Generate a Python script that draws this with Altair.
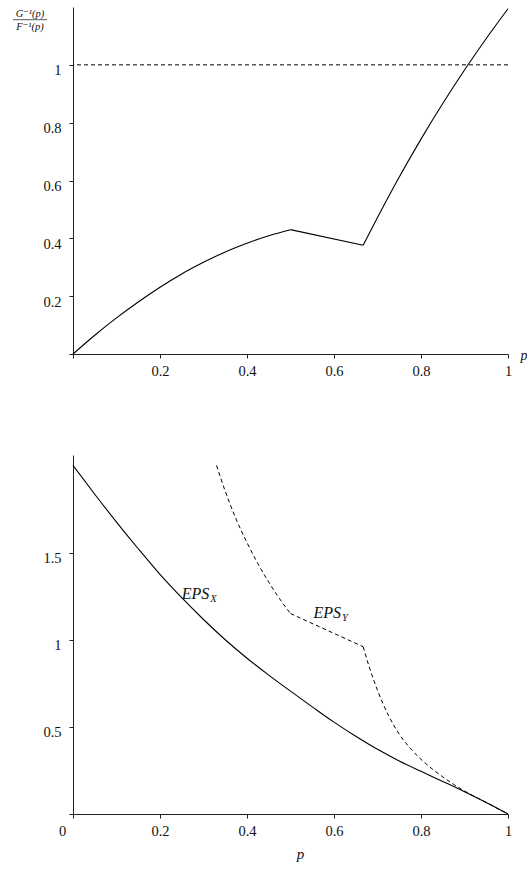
import altair as alt
import pandas as pd

# ---------------- data ----------------
# Top panel: ratio G^-1(p) / F^-1(p), three pieces joined at the kinks
ratio_p_a = [0.0, 0.05, 0.10, 0.15, 0.20, 0.25, 0.30, 0.35, 0.40, 0.45, 0.50]
ratio_v_a = [0.0, 0.065, 0.125, 0.180, 0.231, 0.277, 0.317, 0.353, 0.383, 0.409, 0.430]
ratio_p_b = [0.50, 0.667]
ratio_v_b = [0.430, 0.376]
ratio_p_c = [0.667, 0.70, 0.75, 0.80, 0.85, 0.90, 0.95, 1.0]
ratio_v_c = [0.376, 0.472, 0.612, 0.743, 0.866, 0.982, 1.091, 1.194]
ref_level = [1.0]

# Bottom panel: EPS_X (solid)
eps_x_p = [0.0, 0.05, 0.10, 0.15, 0.20, 0.25, 0.30, 0.35, 0.40, 0.45, 0.50,
           0.55, 0.60, 0.65, 0.70, 0.75, 0.80, 0.85, 0.90, 0.95, 1.0]
eps_x_v = [2.0, 1.835, 1.675, 1.522, 1.375, 1.241, 1.116, 1.0, 0.894, 0.797, 0.705,
           0.615, 0.527, 0.446, 0.371, 0.304, 0.245, 0.187, 0.128, 0.066, 0.0]

# Bottom panel: EPS_Y (dashed), three pieces joined at the kinks
eps_y_p_a = [0.33, 0.35, 0.375, 0.40, 0.425, 0.45, 0.475, 0.50]
eps_y_v_a = [2.0, 1.852, 1.692, 1.557, 1.437, 1.33, 1.235, 1.15]
eps_y_p_b = [0.50, 0.667]
eps_y_v_b = [1.15, 0.96]
eps_y_p_c = [0.667, 0.68, 0.70, 0.725, 0.75, 0.775, 0.80, 0.825, 0.85, 0.875, 0.90, 0.95, 1.0]
eps_y_v_c = [0.96, 0.852, 0.71, 0.567, 0.458, 0.378, 0.314, 0.26, 0.213, 0.17, 0.132, 0.066, 0.0]

label_text = ["EPS", "EPS"]
label_sub = ["X", "Y"]
label_p = [0.25, 0.553]
label_v = [1.233, 1.122]

top_x_ticks = [0.0, 0.2, 0.4, 0.6, 0.8, 1.0]
top_y_ticks = [0.0, 0.2, 0.4, 0.6, 0.8, 1.0]
bot_x_ticks = [0.0, 0.2, 0.4, 0.6, 0.8, 1.0]
bot_y_ticks = [0.0, 0.5, 1.0, 1.5]

frac_num = ["G⁻¹(p)"]
frac_den = ["F⁻¹(p)"]


# ---------------- tables ----------------
def pieces(*parts):
    rows = []
    for k, (ps, vs) in enumerate(parts):
        for p, v in zip(ps, vs):
            rows.append({"seg": k, "p": p, "v": v})
    return pd.DataFrame(rows)


ratio_df = pieces((ratio_p_a, ratio_v_a), (ratio_p_b, ratio_v_b), (ratio_p_c, ratio_v_c))
ref_df = pd.DataFrame({"v": ref_level})
epsx_df = pd.DataFrame({"p": eps_x_p, "v": eps_x_v})
epsy_df = pieces((eps_y_p_a, eps_y_v_a), (eps_y_p_b, eps_y_v_b), (eps_y_p_c, eps_y_v_c))
lab_df = pd.DataFrame({"t": label_text, "s": label_sub, "p": label_p, "v": label_v})
num_df = pd.DataFrame({"t": frac_num})
den_df = pd.DataFrame({"t": frac_den})
one_df = pd.DataFrame({"k": [0]})

FONT = "'Liberation Serif', 'DejaVu Serif', serif"
W = 435

common_axis = dict(
    grid=False, tickSize=4, tickColor="#222", domainColor="#222",
    labelFont=FONT, labelFontSize=14.5, labelColor="#111",
    labelFlush=False, labelOverlap=False, format=".1~f",
)

# ---------------- top panel ----------------
tx = alt.X("p:Q", scale=alt.Scale(domain=[0, 1], nice=False, zero=False),
           axis=alt.Axis(values=top_x_ticks,
                         labelExpr="datum.value == 0 ? '' : datum.label",
                         labelBaseline="middle", labelPadding=13,
                         title="p", titleFont=FONT, titleFontStyle="italic",
                         titleFontWeight="normal", titleFontSize=14, titleColor="#111",
                         titleX=447, titleY=5.5, titleAlign="left",
                         titleBaseline="alphabetic", titleAngle=0,
                         **common_axis))
ty = alt.Y("v:Q", scale=alt.Scale(domain=[0, 1.2], nice=False, zero=False),
           axis=alt.Axis(values=top_y_ticks,
                         labelExpr="datum.value == 0 ? '' : datum.label",
                         labelPadding=8, labelOffset=6, title=None,
                         **common_axis))

ratio_line = alt.Chart(ratio_df).mark_line(color="black", strokeWidth=1.1,
                                           interpolate="monotone").encode(
    x=tx, y=ty, detail="seg:N")
ref_rule = alt.Chart(ref_df).mark_rule(color="black", strokeWidth=1, strokeDash=[4, 3]).encode(
    y=alt.Y("v:Q", scale=alt.Scale(domain=[0, 1.2], nice=False, zero=False)))
num_text = alt.Chart(num_df).mark_text(font=FONT, fontStyle="italic", fontSize=10.5,
                                       align="center", baseline="alphabetic",
                                       color="#111").encode(
    text="t:N", x=alt.value(-43), y=alt.value(10))
den_text = alt.Chart(den_df).mark_text(font=FONT, fontStyle="italic", fontSize=10.5,
                                       align="center", baseline="alphabetic",
                                       color="#111").encode(
    text="t:N", x=alt.value(-43), y=alt.value(23.3))
frac_bar = alt.Chart(one_df).mark_rule(color="#111", strokeWidth=0.7).encode(
    x=alt.value(-60), x2=alt.value(-26), y=alt.value(12.7))

top = alt.layer(ref_rule, ratio_line, num_text, den_text, frac_bar).properties(width=W, height=347)

# ---------------- bottom panel ----------------
bx = alt.X("p:Q", scale=alt.Scale(domain=[0, 1], nice=False, zero=False),
           axis=alt.Axis(values=bot_x_ticks,
                         labelBaseline="middle", labelPadding=13,
                         labelOffset={"condition": {"test": "datum.value == 0", "value": -11}, "value": 0},
                         title="p", titleFont=FONT, titleFontStyle="italic",
                         titleFontWeight="normal", titleFontSize=15, titleColor="#111",
                         titleX=227, titleY=44.5, titleAlign="center",
                         titleBaseline="alphabetic", titleAngle=0,
                         **common_axis))
by = alt.Y("v:Q", scale=alt.Scale(domain=[0, 2.06], nice=False, zero=False),
           axis=alt.Axis(values=bot_y_ticks,
                         labelExpr="datum.value == 0 ? '' : datum.label",
                         labelPadding=8, labelOffset=6, title=None,
                         **common_axis))

epsx_line = alt.Chart(epsx_df).mark_line(color="black", strokeWidth=1.1,
                                         interpolate="monotone").encode(x=bx, y=by)
epsy_line = alt.Chart(epsy_df).mark_line(color="black", strokeWidth=1, strokeDash=[4, 3],
                                         interpolate="monotone").encode(
    x=bx, y=by, detail="seg:N")
lab_main = alt.Chart(lab_df).mark_text(font=FONT, fontStyle="italic", fontSize=16,
                                       align="left", baseline="alphabetic", color="#111").encode(
    x=bx, y=by, text="t:N")
lab_sub = alt.Chart(lab_df).mark_text(font=FONT, fontStyle="italic", fontSize=10.5,
                                      align="left", baseline="alphabetic", color="#111",
                                      dx=28.5, dy=3).encode(
    x=bx, y=by, text="s:N")

bottom = alt.layer(epsx_line, epsy_line, lab_main, lab_sub).properties(width=W, height=359)

chart = alt.vconcat(top, bottom, spacing=101, bounds="flush").properties(
    padding={"left": 12, "top": 6, "right": 0, "bottom": 0},
    background="white",
).configure_view(strokeWidth=0)

chart.save("out.html", embed_options={"renderer": "svg", "actions": False})
